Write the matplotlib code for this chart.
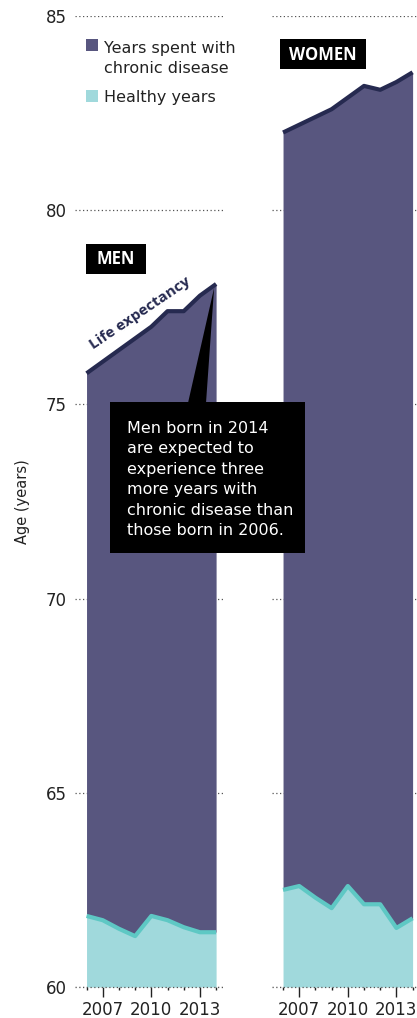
import matplotlib
matplotlib.use("Agg")
import matplotlib.pyplot as plt
from matplotlib.patches import Rectangle, Polygon
from matplotlib.ticker import FixedLocator

# ---------------- data ----------------
years = [2006, 2007, 2008, 2009, 2010, 2011, 2012, 2013, 2014]
men_life_expectancy = [75.8, 76.1, 76.4, 76.7, 77.0, 77.4, 77.4, 77.8, 78.1]
men_healthy = [61.83, 61.72, 61.5, 61.31, 61.83, 61.72, 61.54, 61.41, 61.41]
women_life_expectancy = [82.0, 82.2, 82.4, 82.6, 82.9, 83.2, 83.1, 83.3, 83.55]
women_healthy = [62.5, 62.6, 62.3, 62.03, 62.6, 62.13, 62.13, 61.52, 61.77]
y_ticks = [60, 65, 70, 75, 80, 85]
x_major_ticks = [2007, 2010, 2013]
legend_labels = ["Years spent with\nchronic disease", "Healthy years"]
callout_text = ("Men born in 2014\nare expected to\nexperience three\n"
                "more years with\nchronic disease than\nthose born in 2006.")

# ---------------- style ----------------
PURPLE = "#58567f"
NAVY = "#262a50"
TEAL_FILL = "#a0d9dc"
TEAL_LINE = "#5ec8c4"
GRID = "#555555"
FONT = "DejaVu Sans"
BOLD = "Open Sans"
TXT = "#222222"

W, H = 417, 1018
fig = plt.figure(figsize=(W / 100, H / 100), dpi=100)

ybot = (H - 987) / H
ytop = (H - 16) / H
ax_w = 149 / W
axL = fig.add_axes([75.2 / W, ybot, ax_w, ytop - ybot])
axR = fig.add_axes([271.7 / W, ybot, ax_w, ytop - ybot])


def panel(ax, le, healthy, show_y):
    ax.set_xlim(2005.3, 2014.5)
    ax.set_ylim(60, 85)
    for s in ax.spines.values():
        s.set_visible(False)
    ax.set_yticks(y_ticks)
    ax.yaxis.grid(True, linestyle=(0, (1, 2)), color=GRID, lw=0.9, zorder=0)
    ax.set_axisbelow(True)
    ax.fill_between(years, healthy, le, color=PURPLE, lw=0, zorder=2)
    ax.fill_between(years, 60, healthy, color=TEAL_FILL, lw=0, zorder=2)
    ax.plot(years, le, color=NAVY, lw=3, solid_capstyle="butt", zorder=3)
    ax.plot(years, healthy, color=TEAL_LINE, lw=3, solid_capstyle="butt", zorder=3)
    ax.axhline(60, color=GRID, lw=0.9, linestyle=(0, (1, 2)), zorder=4, clip_on=False)
    ax.xaxis.set_major_locator(FixedLocator(x_major_ticks))
    ax.xaxis.set_minor_locator(FixedLocator(years))
    ax.tick_params(axis="x", which="major", length=7, width=1, color=TXT,
                   labelsize=12, pad=3)
    ax.tick_params(axis="x", which="minor", length=2.5, width=1, color=TXT)
    ax.tick_params(axis="y", length=0, labelsize=12, pad=6)
    for lab in ax.get_xticklabels() + ax.get_yticklabels():
        lab.set_fontfamily(FONT)
        lab.set_color(TXT)
    if not show_y:
        ax.set_yticklabels([])


panel(axL, men_life_expectancy, men_healthy, True)
panel(axR, women_life_expectancy, women_healthy, False)

axL.set_ylabel("Age (years)", fontsize=10.5, family=FONT, color=TXT, labelpad=0)
axL.yaxis.set_label_coords(-0.305, 0.5)

# overlay axes in pixel coordinates for annotations
ov = fig.add_axes([0, 0, 1, 1], zorder=10)
ov.set_xlim(0, W)
ov.set_ylim(H, 0)
ov.axis("off")
ov.patch.set_alpha(0)

# legend
ov.add_patch(Rectangle((86, 39), 12, 12, color=PURPLE, lw=0))
ov.add_patch(Rectangle((86, 90), 12, 12, color=TEAL_FILL, lw=0))
ov.text(104, 73, legend_labels[0], fontsize=11.5, family=FONT, color=TXT,
        va="baseline", ha="left", linespacing=1.38)
ov.text(104, 102, legend_labels[1], fontsize=11.5, family=FONT, color=TXT,
        va="baseline", ha="left")

# panel labels
ov.add_patch(Rectangle((86, 244), 60, 30, color="black", lw=0))
ov.text(116, 259.5, "MEN", fontsize=12, family=BOLD, weight="bold", color="white",
        ha="center", va="center")
ov.add_patch(Rectangle((280, 39), 86, 30, color="black", lw=0))
ov.text(323, 54.5, "WOMEN", fontsize=12, family=BOLD, weight="bold", color="white",
        ha="center", va="center")

# life expectancy label
ov.text(140, 313, "Life expectancy", fontsize=11, family=BOLD, weight="bold",
        color=NAVY, rotation=34, ha="center", va="center", rotation_mode="anchor")

# callout
apex = axL.transData.transform((years[-1], men_life_expectancy[-1]))
apex = ov.transData.inverted().transform(apex)
ov.add_patch(Polygon([(apex[0] - 2, apex[1] + 4), (188, 403), (206, 403)],
                     closed=True, color="black", lw=0))
ov.add_patch(Rectangle((110, 402), 195, 151, color="black", lw=0))
ov.text(127, 535, callout_text, fontsize=11.5, family=FONT, color="white",
        va="baseline", ha="left", linespacing=1.45)

fig.savefig("out.png", dpi=100)
